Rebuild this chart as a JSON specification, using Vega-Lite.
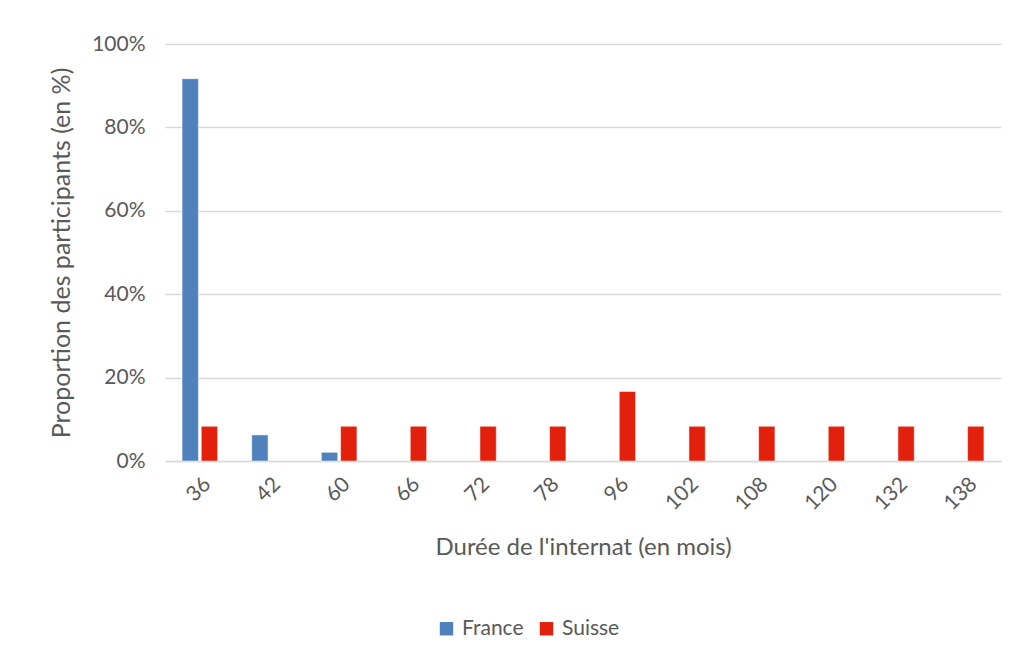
{
  "$schema": "https://vega.github.io/schema/vega-lite/v6.json",
  "autosize": "none",
  "width": 836,
  "height": 417,
  "padding": {"left": 165, "top": 44, "right": 22, "bottom": 208},
  "background": "white",
  "config": {
    "font": "Lato",
    "view": {"stroke": null},
    "axis": {"labelColor": "#595959", "titleColor": "#595959", "labelFont": "Lato", "titleFont": "Lato", "titleFontWeight": "normal"},
    "legend": {"labelColor": "#595959", "labelFont": "Lato"}
  },
  "data": {
    "values": [
      {"duree": "36", "pays": "France", "prop": 0.9167},
      {"duree": "36", "pays": "Suisse", "prop": 0.0833},
      {"duree": "42", "pays": "France", "prop": 0.0625},
      {"duree": "60", "pays": "France", "prop": 0.0208},
      {"duree": "60", "pays": "Suisse", "prop": 0.0833},
      {"duree": "66", "pays": "Suisse", "prop": 0.0833},
      {"duree": "72", "pays": "Suisse", "prop": 0.0833},
      {"duree": "78", "pays": "Suisse", "prop": 0.0833},
      {"duree": "96", "pays": "Suisse", "prop": 0.1667},
      {"duree": "102", "pays": "Suisse", "prop": 0.0833},
      {"duree": "108", "pays": "Suisse", "prop": 0.0833},
      {"duree": "120", "pays": "Suisse", "prop": 0.0833},
      {"duree": "132", "pays": "Suisse", "prop": 0.0833},
      {"duree": "138", "pays": "Suisse", "prop": 0.0833}
    ]
  },
  "mark": {"type": "bar", "stroke": "white", "strokeWidth": 0.5},
  "encoding": {
    "x": {
      "field": "duree",
      "type": "ordinal",
      "sort": ["36","42","60","66","72","78","96","102","108","120","132","138"],
      "scale": {"paddingInner": 0.49, "paddingOuter": 0.245},
      "axis": {
        "title": "Durée de l'internat (en mois)",
        "titleFontSize": 24,
        "titlePadding": 22,
        "labelAngle": -45,
        "labelFontSize": 21,
        "labelPadding": 12,
        "ticks": false,
        "domainColor": "#d9d9d9",
        "domainWidth": 1.5
      }
    },
    "xOffset": {"field": "pays", "type": "nominal", "scale": {"paddingInner": 0.15}},
    "y": {
      "field": "prop",
      "type": "quantitative",
      "scale": {"domain": [0, 1]},
      "axis": {
        "title": "Proportion des participants (en %)",
        "titleFontSize": 25,
        "titlePadding": 17,
        "format": ".0%",
        "values": [0, 0.2, 0.4, 0.6, 0.8, 1],
        "labelFontSize": 21,
        "labelPadding": 20,
        "ticks": false,
        "domain": false,
        "gridColor": "#d9d9d9",
        "gridWidth": 1.5
      }
    },
    "color": {
      "field": "pays",
      "type": "nominal",
      "scale": {"domain": ["France", "Suisse"], "range": ["#4F81BD", "#E3200B"]},
      "legend": {
        "title": null,
        "orient": "none",
        "direction": "horizontal",
        "legendX": 271,
        "legendY": 574,
        "symbolType": "square",
        "symbolSize": 180,
        "symbolStrokeWidth": 0,
        "labelFontSize": 21,
        "columnPadding": 12,
        "labelOffset": 5
      }
    }
  }
}
